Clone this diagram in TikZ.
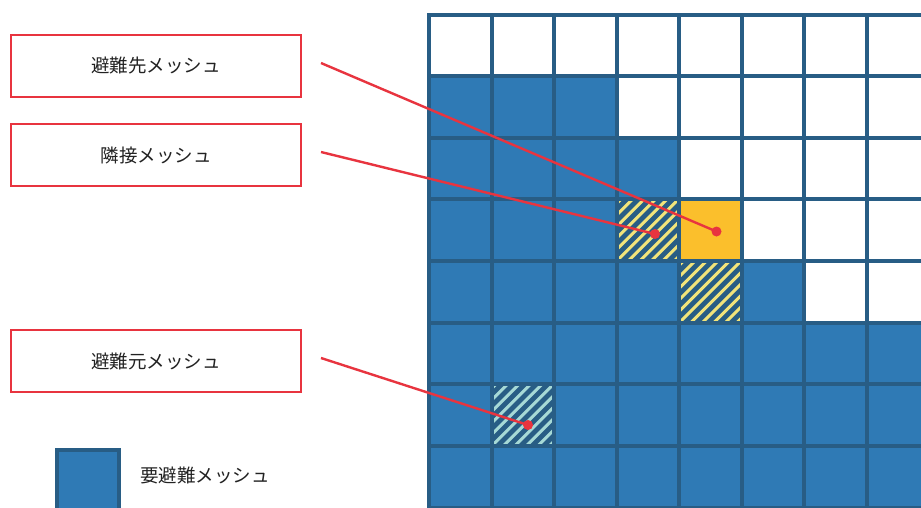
\documentclass[tikz,border=0pt]{standalone}
\usepackage{fontspec}
\newfontfamily\jpfont{Noto Sans CJK JP}
\definecolor{cellblue}{HTML}{2F7AB5}
\definecolor{gridline}{HTML}{285D85}
\definecolor{stripeyellow}{HTML}{F2E47A}
\definecolor{stripecyan}{HTML}{A6D9D6}
\definecolor{destorange}{HTML}{FBBF2C}
\definecolor{callred}{HTML}{E8343F}
\definecolor{txt}{HTML}{222222}
\newcommand\cw{62.57}
\newcommand\ch{61.65}
\newcommand\mcell[3]{\fill[#3] ({429+\cw*#1},{14.5+\ch*#2}) rectangle ++(\cw,\ch);}
\newcommand\hcell[3]{%
  \begin{scope}
    \clip ({429+\cw*#1},{14.5+\ch*#2}) rectangle ++(\cw,\ch);
    \fill[gridline] ({429+\cw*#1},{14.5+\ch*#2}) rectangle ++(\cw,\ch);
    \foreach \k in {-7,...,7}
      \draw[#3, line width=3pt] ({429+\cw*#1+11.5*\k},{14.5+\ch*(#2+1)}) -- ++(80,-80);
  \end{scope}}
\tikzset{
  callbox/.style={draw=callred, line width=2pt, fill=white, minimum width=290pt, minimum height=62pt, inner sep=0pt, text=txt, font=\jpfont\fontsize{18.5}{21}\selectfont},
  calldot/.style={circle, fill=callred, inner sep=0pt, minimum size=10pt},
  callline/.style={draw=callred, line width=2.4pt},
  legtext/.style={text=txt, font=\jpfont\fontsize{18.5}{21}\selectfont, inner sep=0pt}
}
\begin{document}
\begin{tikzpicture}[x=1pt,y=-1pt]
\useasboundingbox (0,0) rectangle (921,507);
\fill[white] (0,0) rectangle (921,507);
\begin{scope}
\clip (0,0) rectangle (921,507);
% blue cells
\foreach \c in {0,1,2} {\mcell{\c}{1}{cellblue}}
\foreach \c in {0,1,2,3} {\mcell{\c}{2}{cellblue}}
\foreach \c in {0,1,2} {\mcell{\c}{3}{cellblue}}
\foreach \c in {0,1,2,3,5} {\mcell{\c}{4}{cellblue}}
\foreach \c in {0,...,7} {\mcell{\c}{5}{cellblue}}
\foreach \c in {0,2,3,4,5,6,7} {\mcell{\c}{6}{cellblue}}
\foreach \c in {0,...,7} {\mcell{\c}{7}{cellblue}}
\mcell{4}{3}{destorange}
\hcell{3}{3}{stripeyellow}
\hcell{4}{4}{stripeyellow}
\hcell{1}{6}{stripecyan}
% grid lines
\foreach \i in {0,...,8}
  \draw[gridline, line width=4pt, line cap=rect] ({429+\cw*\i},14.5) -- ({429+\cw*\i},530);
\foreach \j in {0,...,8}
  \draw[gridline, line width=4pt, line cap=rect] (429,{14.5+\ch*\j}) -- (950,{14.5+\ch*\j});
% legend square
\node[draw=gridline, fill=cellblue, line width=4pt, minimum width=62pt, minimum height=80pt, inner sep=0pt, anchor=north west] (legsq) at (55,448) {};
\end{scope}
% callout boxes
\node[callbox] (b1) at (156,66) {避難先メッシュ};
\node[callbox] (b2) at (156,155) {隣接メッシュ};
\node[callbox] (b3) at (156,361) {避難元メッシュ};
\node[legtext] (leg) at (205,475) {要避難メッシュ};
% dots
\node[calldot] (d1) at (716.5,231.5) {};
\node[calldot] (d2) at (655,234) {};
\node[calldot] (d3) at (528,425) {};
\coordinate (s1) at (321,63);
\coordinate (s2) at (321,152);
\coordinate (s3) at (321,358);
\draw[callline] (s1) -- (d1.center);
\draw[callline] (s2) -- (d2.center);
\draw[callline] (s3) -- (d3.center);
\end{tikzpicture}
\end{document}
